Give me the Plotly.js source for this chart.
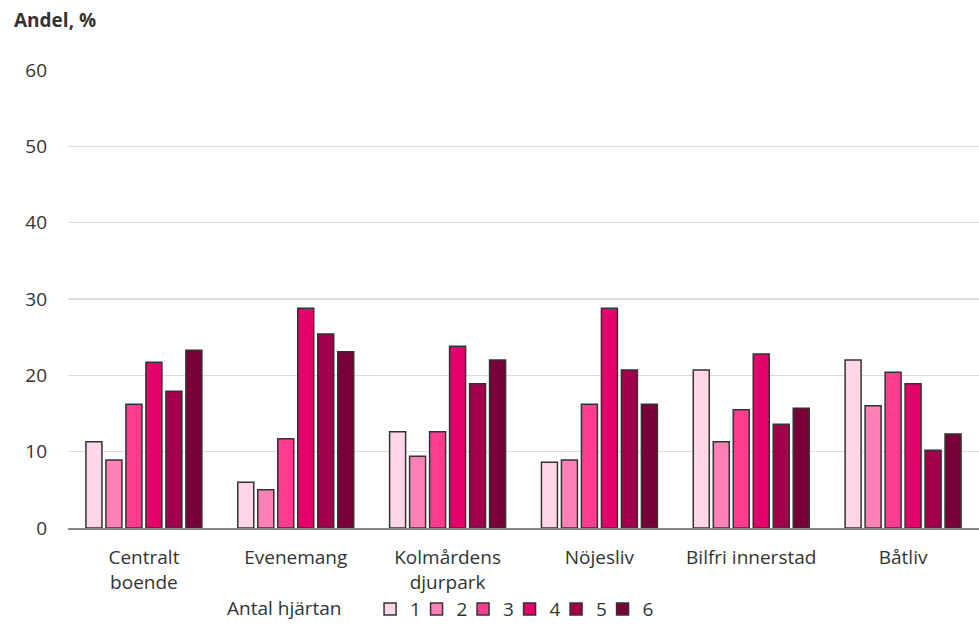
<!DOCTYPE html>
<html><head><meta charset="utf-8">
<script src="https://cdn.plot.ly/plotly-3.0.1.min.js"></script>
<style>html,body{margin:0;padding:0;background:#fff}#chart{width:979px;height:628px}</style>
</head><body><div id="chart"></div>
<script>
const categories = ["Centralt<br>boende","Evenemang","Kolmårdens<br>djurpark","Nöjesliv","Bilfri innerstad","Båtliv"];
const seriesNames = ["1","2","3","4","5","6"];
const s1 = [11.3, 6.0, 12.6, 8.6, 20.7, 22.0];
const s2 = [8.9, 5.0, 9.4, 8.9, 11.3, 16.0];
const s3 = [16.2, 11.7, 12.6, 16.2, 15.5, 20.4];
const s4 = [21.7, 28.8, 23.8, 28.8, 22.8, 18.9];
const s5 = [17.9, 25.4, 18.9, 20.7, 13.6, 10.2];
const s6 = [23.3, 23.1, 22.0, 16.2, 15.7, 12.3];
const colors = ["#FFD6E8","#FF80B5","#FF3D8F","#E6006A","#A3004B","#7A0038"];
const allSeries = [s1,s2,s3,s4,s5,s6];
const font = "'Open Sans', sans-serif";
const fs = 19;
const traces = allSeries.map((vals,i)=>({
  type:'bar', x:categories, y:vals, name:seriesNames[i],
  marker:{color:colors[i], line:{color:'#333333', width:1.5}},
  hoverinfo:'y'
}));
// invisible spacer legend entry so the last legend label is not clipped
traces.push({type:'scatter', mode:'markers', x:[null], y:[null], name:' ', showlegend:true, visible:'legendonly',
  marker:{color:'rgba(0,0,0,0)', line:{width:0}}, hoverinfo:'skip'});
const layout = {
  width:979, height:628,
  margin:{l:68, r:0, t:70, b:100},
  paper_bgcolor:'#fff', plot_bgcolor:'#fff',
  barmode:'group', bargap:0.21, bargroupgap:0.2,
  font:{family:font, size:fs, color:'#333'},
  xaxis:{automargin:false, tickfont:{size:fs, color:'#333'}, showline:true, linecolor:'#888', linewidth:1.5, ticks:'', showgrid:false, ticklabelstandoff:12},
  yaxis:{automargin:false, range:[0,60], dtick:10, tickfont:{size:fs, color:'#333'}, gridcolor:'#dcdcdc', gridwidth:1.5, zeroline:false, ticks:'', ticklabelstandoff:20},
  showlegend:true,
  legend:{orientation:'h', xref:'container', yref:'container', x:0.378, xanchor:'left', y:0.030, yanchor:'middle', bgcolor:'rgba(0,0,0,0)', font:{size:fs, color:'#333'}, itemwidth:30, entrywidth:1.5, traceorder:'normal'},
  annotations:[
    {text:'<b>Andel, %</b>', xref:'paper', yref:'paper', x:-0.062, y:1.109, xanchor:'left', yanchor:'middle', showarrow:false, font:{size:fs, color:'#333'}},
    {text:'Antal hjärtan', xref:'paper', yref:'paper', x:0.172, y:-0.175, xanchor:'left', yanchor:'middle', showarrow:false, font:{size:fs, color:'#333'}}
  ]
};
Plotly.newPlot('chart', traces, layout, {displayModeBar:false, staticPlot:true});
</script></body></html>
